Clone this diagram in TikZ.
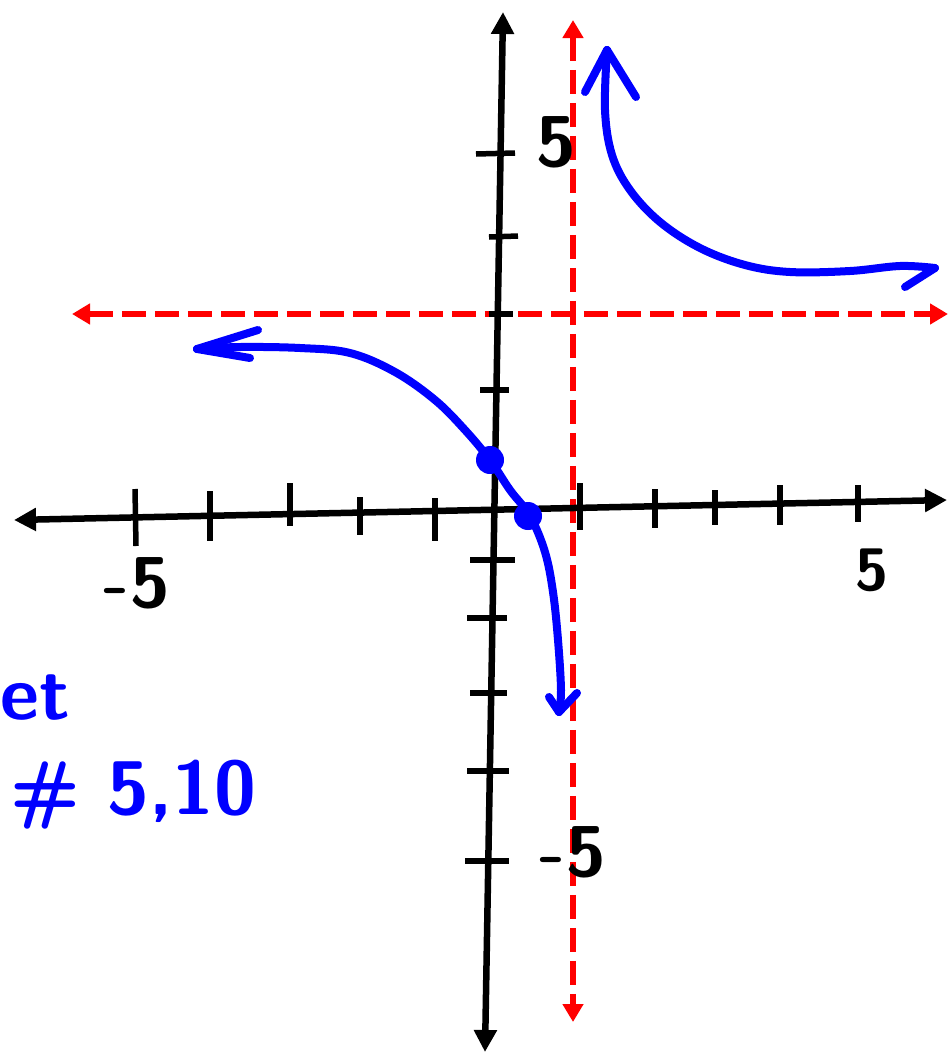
\documentclass[tikz,border=0pt]{standalone}
\usetikzlibrary{arrows.meta}
\begin{document}
\begin{tikzpicture}[x=1pt,y=-1pt,
  axisline/.style={line width=6.5pt,black,{Triangle[length=22pt,width=22pt]}-{Triangle[length=22pt,width=22pt]}},
  tickline/.style={line width=5.5pt,black},
  asym/.style={line width=6pt,red,dash pattern=on 24pt off 9pt,{Triangle[length=18pt,width=20pt]}-{Triangle[length=18pt,width=20pt]}},
  curve/.style={line width=8pt,blue,line cap=round,line join=round},
  dotmark/.style={circle,fill=blue,inner sep=0pt,minimum size=28pt},
  lbl/.style={inner sep=0pt,font=\sffamily\bfseries\fontsize{72}{72}\selectfont},
  bluelbl/.style={inner sep=0pt,blue,font=\sffamily\bfseries\fontsize{76}{76}\selectfont}]
\useasboundingbox (0,0) rectangle (949,1052);
\fill[white] (0,0) rectangle (949,1052);
% asymptotes
\coordinate (ht) at (72,314);
\coordinate (hb) at (948,314);
\coordinate (vt) at (573,20);
\coordinate (vb) at (573,1022);
\draw[asym] (ht) -- (hb);
\draw[asym] (vt) -- (vb);
% axes
\coordinate (xl) at (14,520);
\coordinate (xr) at (947,500);
\coordinate (yt) at (503,12);
\coordinate (yb) at (485,1052);
\draw[axisline] (xl) -- (xr);
\draw[axisline] (yt) -- (yb);
% x ticks
\draw[tickline] (135,489) -- (136,546);
\draw[tickline] (210,491) -- (210,541);
\draw[tickline] (290,483) -- (290,526);
\draw[tickline] (360,497) -- (360,535);
\draw[tickline] (435,498) -- (435,541);
\draw[tickline] (580,483) -- (580,530);
\draw[tickline] (655,489) -- (655,528);
\draw[tickline] (715,490) -- (715,525);
\draw[tickline] (780,485) -- (780,525);
\draw[tickline] (858,485) -- (858,522);
% y ticks
\draw[tickline] (476,154) -- (515,153);
\draw[tickline] (489,237) -- (518,236);
\draw[tickline] (489,314) -- (513,314);
\draw[tickline] (480,390) -- (509,390);
\draw[tickline] (470,560) -- (515,560);
\draw[tickline] (467,618) -- (507,618);
\draw[tickline] (470,693) -- (507,693);
\draw[tickline] (467,771) -- (509,771);
\draw[tickline] (465,861) -- (509,861);
% left branch
\draw[curve] plot[smooth,tension=0.6] coordinates {(197,349) (240,347) (300,348) (350,353) (395,372) (435,400) (465,430) (490,460) (510,490) (530,516) (545,552) (553,592) (558,640) (561,690) (559,712)};
\draw[curve] (197,349) -- (258,330);
\draw[curve] (197,349) -- (250,358);
\draw[curve] (559,712) -- (549,697);
\draw[curve] (559,712) -- (577,693);
% right branch
\draw[curve] plot[smooth,tension=0.6] coordinates {(607,50) (605,110) (612,155) (630,190) (660,222) (700,248) (745,265) (790,272) (850,271) (900,266) (935,268)};
\draw[curve] (607,50) -- (585,92);
\draw[curve] (607,50) -- (636,97);
\draw[curve] (935,268) -- (905,287);
% points
\node[dotmark] (p1) at (490,460) {};
\node[dotmark] (p2) at (528,516) {};
% labels
\node[lbl] (l1) at (556,142) {5};
\node[lbl] (l2) at (137,583) {-5};
\node[lbl,font=\sffamily\bfseries\fontsize{60}{60}\selectfont] (l3) at (872,570) {5};
\node[lbl] (l4) at (573,852) {-5};
\node[bluelbl,anchor=west] (t1) at (0,698) {et};
\node[bluelbl,anchor=west] (t2) at (10,795) {\# 5,10};
\end{tikzpicture}
\end{document}
